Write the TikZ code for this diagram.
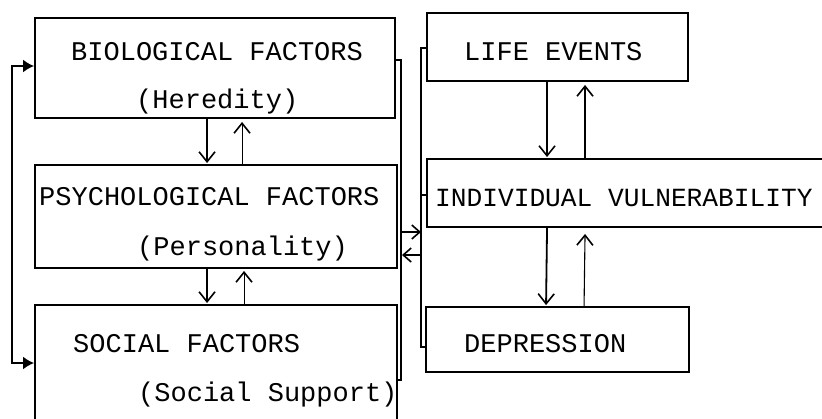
\documentclass[tikz,border=0pt]{standalone}
\usepackage{fontspec}
\newfontfamily\tw{Liberation Mono}
\usetikzlibrary{arrows.meta}
\begin{document}
\begin{tikzpicture}[x=1pt,y=-1pt,
  box/.style={draw,line width=1.9pt,rectangle,inner sep=0pt},
  lbl/.style={anchor=base west,inner sep=0pt,font=\tw\fontsize{27}{30}\selectfont},
  dnarr/.style={line width=1.8pt,-{Straight Barb[length=10pt,width=16pt,line width=1.6pt]}},
  uparr/.style={line width=1.1pt,-{Straight Barb[length=10pt,width=16pt,line width=1.6pt]}},
  brk/.style={line width=1.6pt},
  brkarr/.style={line width=1.8pt,{Latex[length=11pt,width=13pt]}-{Latex[length=11pt,width=13pt]}},
  midarr/.style={line width=1.5pt,-{Straight Barb[length=8pt,width=14pt,line width=1.6pt]}}]
\useasboundingbox (0,0) rectangle (822,418);
\clip (0,0) rectangle (822,418);
% boxes
\node[box,minimum width=360pt,minimum height=100pt] (bio) at (215,68) {};
\node[box,minimum width=362pt,minimum height=103pt] (psy) at (216,216.5) {};
\node[box,minimum width=362pt,minimum height=150pt] (soc) at (216,380) {};
\node[box,minimum width=261pt,minimum height=68pt] (life) at (557.5,47) {};
\node[box,minimum width=420pt,minimum height=68pt] (vul) at (637,193) {};
\node[box,minimum width=263pt,minimum height=65pt] (dep) at (557.5,339.5) {};
% labels
\node[lbl] (t1) at (71,60) {BIOLOGICAL FACTORS};
\node[lbl] (t2) at (136,108) {(Heredity)};
\node[lbl] (t3) at (39,205) {PSYCHOLOGICAL FACTORS};
\node[lbl] (t4) at (137,255) {(Personality)};
\node[lbl] (t5) at (73,352) {SOCIAL FACTORS};
\node[lbl] (t6) at (138,401) {(Social Support)};
\node[lbl] (t7) at (464,60) {LIFE EVENTS};
\node[lbl,font=\tw\fontsize{26.2}{30}\selectfont] (t8) at (435,206) {INDIVIDUAL VULNERABILITY};
\node[lbl] (t9) at (464,352) {DEPRESSION};
% vertical arrows left column
\draw[dnarr] ([xshift=173pt]bio.south west) -- ([xshift=173pt,yshift=1pt]psy.north west);
\draw[uparr] ([xshift=208pt]psy.north west) -- ([xshift=208pt,yshift=-3pt]bio.south west);
\draw[dnarr] ([xshift=173pt]psy.south west) -- ([xshift=173pt,yshift=1pt]soc.north west);
\draw[uparr] ([xshift=210pt]soc.north west) -- ([xshift=210pt,yshift=-2pt]psy.south west);
% vertical arrows right column
\draw[dnarr] ([xshift=121pt]life.south west) -- ([xshift=121pt,yshift=1pt]vul.north west);
\draw[uparr,line width=1.8pt] ([xshift=159pt]vul.north west) -- ([xshift=159pt,yshift=-3pt]life.south west);
\draw[dnarr] ([xshift=121pt]vul.south west) -- ([xshift=121pt,yshift=1pt]dep.north west);
\draw[uparr] ([xshift=159pt]dep.north west) -- ([xshift=159pt,yshift=-6pt]vul.south west);
% left bracket
\coordinate (lb1) at (12,66);
\coordinate (lb2) at (12,363);
\draw[brkarr] (bio.west |- lb1) -- (lb1) -- (lb2) -- (soc.west |- lb2);
% right bracket of left group
\coordinate (rb1) at (401,60);
\coordinate (rb2) at (401,380);
\draw[brk] (bio.east |- rb1) -- (rb1) -- (rb2) -- (soc.east |- rb2);
% bracket of right group
\coordinate (gb1) at (421,48);
\coordinate (gb2) at (421,347);
\coordinate (gb3) at (421,195);
\draw[brk] (life.west |- gb1) -- (gb1) -- (gb2) -- (dep.west |- gb2);
\draw[brk] (gb3) -- (vul.west |- gb3);
% middle arrows
\coordinate (ma1) at (401,232);
\coordinate (mb1) at (421,232);
\coordinate (ma2) at (402,255);
\coordinate (mb2) at (421,255);
\draw[midarr] (ma1) -- (mb1);
\draw[midarr] (mb2) -- (ma2);
\end{tikzpicture}
\end{document}
